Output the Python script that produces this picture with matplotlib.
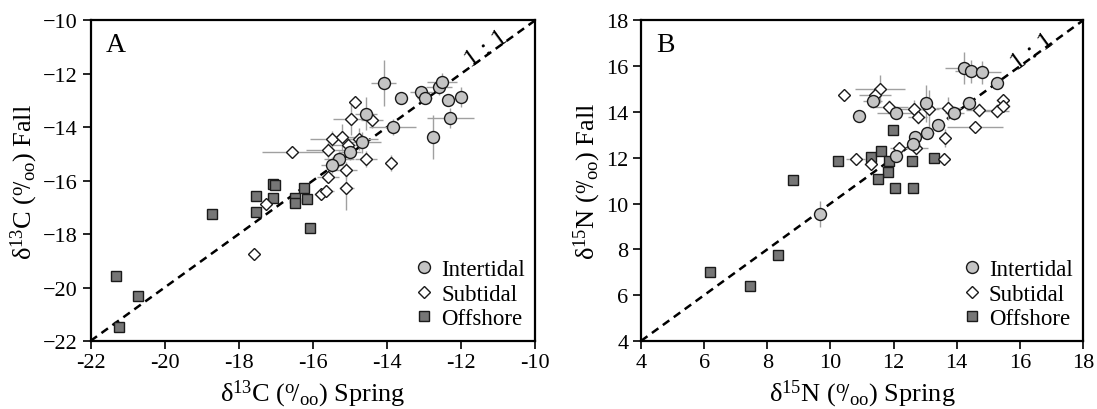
import matplotlib
matplotlib.use("Agg")
import matplotlib.pyplot as plt
from matplotlib.lines import Line2D

plt.rcParams['font.family'] = ['Liberation Serif', 'DejaVu Serif']
plt.rcParams['mathtext.fontset'] = 'custom'
plt.rcParams['mathtext.rm'] = 'Liberation Serif'
plt.rcParams['mathtext.it'] = 'Liberation Serif:italic'

# ---------------- Panel A: d13C ----------------
a_int_x = [-14.09, -13.63, -13.07, -12.98, -12.58, -12.51, -12.35, -12.00, -12.29, -12.75, -13.84, -14.56, -14.66, -14.99, -15.29, -15.49]
a_int_y = [-12.34, -12.92, -12.69, -12.91, -12.50, -12.32, -12.99, -12.86, -13.66, -14.36, -14.00, -13.50, -14.57, -14.92, -15.19, -15.42]
a_int_xe = [0.34, 0.0, 0.31, 0.2, 0.35, 0.4, 0.1, 0.1, 0.63, 0.1, 0.63, 0.3, 0.5, 0.3, 0.4, 0.3]
a_int_ye = [0.85, 0.0, 0.2, 0.2, 0.3, 0.37, 0.2, 0.37, 0.37, 0.81, 0.3, 0.62, 0.4, 0.3, 0.3, 0.3]

a_sub_x = [-16.55, -14.86, -14.96, -14.41, -15.48, -15.20, -14.75, -15.58, -15.05, -14.56, -13.88, -15.11, -15.59, -15.09, -15.77, -15.63, -17.25, -17.59]
a_sub_y = [-14.92, -13.07, -13.69, -13.72, -14.44, -14.38, -14.44, -14.84, -14.67, -15.17, -15.32, -15.60, -15.88, -16.28, -16.50, -16.38, -16.88, -18.73]
a_sub_xe = [0.83, 0.0, 0.5, 0.3, 0.6, 0.4, 0.5, 0.6, 0.4, 0.3, 0.1, 0.3, 0.3, 0.2, 0.2, 0.2, 0.0, 0.0]
a_sub_ye = [0.1, 0.0, 0.6, 0.3, 0.3, 0.5, 0.4, 0.3, 0.3, 0.3, 0.3, 0.3, 0.2, 0.8, 0.2, 0.2, 0.0, 0.0]

a_off_x = [-21.32, -20.72, -21.22, -18.72, -17.52, -17.54, -17.07, -17.03, -17.07, -16.49, -16.47, -16.24, -16.15, -16.08]
a_off_y = [-19.57, -20.32, -21.48, -17.26, -16.57, -17.19, -16.13, -16.16, -16.63, -16.63, -16.82, -16.29, -16.69, -17.78]

# ---------------- Panel B: d15N ----------------
b_int_x = [14.24, 14.44, 14.79, 15.27, 11.34, 10.92, 12.08, 13.03, 13.92, 14.38, 13.42, 13.07, 12.68, 12.63, 12.08, 9.67]
b_int_y = [15.93, 15.77, 15.74, 15.27, 14.47, 13.82, 13.96, 14.38, 13.96, 14.38, 13.44, 13.09, 12.90, 12.61, 12.10, 9.55]
b_int_xe = [0.6, 0.5, 0.6, 0.1, 0.3, 0.0, 0.6, 0.2, 0.3, 0.2, 0.2, 0.2, 0.2, 0.2, 0.2, 0.0]
b_int_ye = [0.7, 0.5, 0.5, 0.1, 0.3, 0.0, 0.2, 0.8, 0.3, 0.2, 0.2, 0.2, 0.2, 0.2, 0.2, 0.56]

b_sub_x = [10.44, 11.57, 11.41, 11.87, 12.65, 12.76, 13.13, 13.73, 14.71, 15.27, 15.46, 15.48, 14.58, 13.63, 12.18, 12.70, 10.80, 11.28, 13.60]
b_sub_y = [14.75, 15.01, 14.75, 14.21, 14.14, 13.77, 14.14, 14.17, 14.09, 14.06, 14.54, 14.28, 13.34, 12.86, 12.43, 12.42, 11.95, 11.73, 11.95]
b_sub_xe = [0.0, 0.8, 0.5, 0.6, 0.6, 0.3, 0.3, 0.4, 0.4, 0.4, 0.2, 0.2, 0.9, 0.1, 0.3, 0.4, 0.3, 0.2, 0.2]
b_sub_ye = [0.0, 0.6, 0.3, 0.3, 0.4, 0.3, 0.8, 0.5, 0.3, 0.3, 0.2, 0.2, 0.2, 0.4, 0.2, 0.3, 0.0, 0.0, 0.0]

b_off_x = [11.97, 10.25, 11.28, 11.60, 11.87, 12.58, 13.28, 11.81, 8.80, 11.52, 12.05, 12.61, 8.35, 6.19, 7.45]
b_off_y = [13.22, 11.88, 12.02, 12.31, 11.88, 11.85, 11.98, 11.37, 11.03, 11.08, 10.67, 10.67, 7.76, 7.00, 6.39]

a_ticks = [-22, -20, -18, -16, -14, -12, -10]
b_ticks = [4, 6, 8, 10, 12, 14, 16, 18]

INT_C = '#c4c4c4'
OFF_C = '#767676'
EDGE = '#1a1a1a'
ERR_C = '#a0a0a0'

fig = plt.figure(figsize=(10.97, 4.10), dpi=100)
axA = fig.add_axes([0.0825, 0.166, 0.4052, 0.7817])
axB = fig.add_axes([0.5843, 0.166, 0.4029, 0.7817])


def panel(ax, ix, iy, ixe, iye, sx, sy, sxe, sye, ox, oy, ticks, iso, letter, txt_xy):
    lo, hi = ticks[0], ticks[-1]
    ax.plot([lo, hi], [lo, hi], ls=(0, (3.2, 2.2)), color='black', lw=1.8, zorder=1)
    ax.errorbar(ix, iy, xerr=ixe, yerr=iye, fmt='none', ecolor=ERR_C, elinewidth=1.0, capsize=0, zorder=2)
    ax.errorbar(sx, sy, xerr=sxe, yerr=sye, fmt='none', ecolor=ERR_C, elinewidth=1.0, capsize=0, zorder=2)
    ax.plot(ox, oy, ls='none', marker='s', ms=7.3, mfc=OFF_C, mec=EDGE, mew=1.0, zorder=3)
    ax.plot(sx, sy, ls='none', marker='D', ms=6.4, mfc='white', mec=EDGE, mew=1.0, zorder=4)
    ax.plot(ix, iy, ls='none', marker='o', ms=8.6, mfc=INT_C, mec=EDGE, mew=1.0, zorder=5)
    ax.set_xlim(lo, hi)
    ax.set_ylim(lo, hi)
    ax.set_xticks(ticks)
    ax.set_yticks(ticks)
    ax.set_xticklabels([str(t) for t in ticks])
    ax.set_yticklabels([str(t).replace('-', '\u2212') for t in ticks])
    ax.tick_params(axis='both', direction='out', length=6, width=1.2, labelsize=16,
                   top=False, right=False, pad=3)
    for s in ax.spines.values():
        s.set_linewidth(1.6)
    ax.set_xlabel('\u03b4$^{%s}$%s ($^{\\rm o}\\!/_{\\rm oo}$) Spring' % iso, fontsize=19, labelpad=4)
    ax.set_ylabel('\u03b4$^{%s}$%s ($^{\\rm o}\\!/_{\\rm oo}$) Fall' % iso, fontsize=19, labelpad=2)
    ax.text(0.035, 0.965, letter, transform=ax.transAxes, fontsize=20, va='top', ha='left')
    ax.text(txt_xy[0], txt_xy[1], '1 : 1', fontsize=19, rotation=36, ha='center', va='center',
            rotation_mode='anchor')
    handles = [
        Line2D([], [], ls='none', marker='o', ms=8.6, mfc=INT_C, mec=EDGE, mew=1.0),
        Line2D([], [], ls='none', marker='D', ms=6.4, mfc='white', mec=EDGE, mew=1.0),
        Line2D([], [], ls='none', marker='s', ms=7.3, mfc=OFF_C, mec=EDGE, mew=1.0),
    ]
    ax.legend(handles, ['Intertidal', 'Subtidal', 'Offshore'], loc='lower right',
              frameon=False, fontsize=16.5, handlelength=0.8, handletextpad=0.35,
              labelspacing=0.14, borderaxespad=0.2, bbox_to_anchor=(1.008, -0.005))


panel(axA, a_int_x, a_int_y, a_int_xe, a_int_ye, a_sub_x, a_sub_y, a_sub_xe, a_sub_ye,
      a_off_x, a_off_y, a_ticks, ('13', 'C'), 'A', (-11.3, -11.05))
panel(axB, b_int_x, b_int_y, b_int_xe, b_int_ye, b_sub_x, b_sub_y, b_sub_xe, b_sub_ye,
      b_off_x, b_off_y, b_ticks, ('15', 'N'), 'B', (16.4, 16.65))

fig.savefig('out.png', dpi=100)
